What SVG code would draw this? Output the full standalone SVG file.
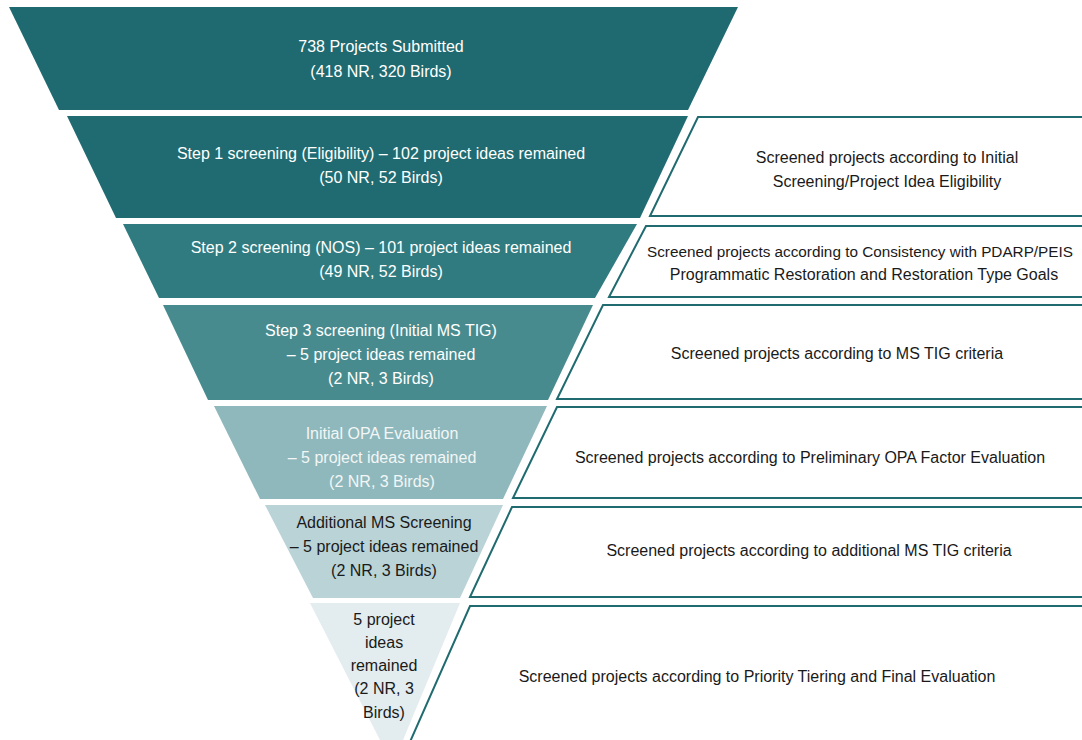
<svg xmlns="http://www.w3.org/2000/svg" width="1082" height="740" viewBox="0 0 1082 740">
<style>
.t{font-family:"Liberation Sans",Arial,sans-serif;font-size:16px;text-anchor:middle}
.w{fill:#ffffff}
.lw{fill:#f2f6f6}
.k{fill:#1a1a1a}
.box{fill:#ffffff;stroke:#1f6b70;stroke-width:2}
</style>
<rect width="1082" height="740" fill="#ffffff"/>
<g id="band1">
<polygon points="9,7 738,7 688,110 59,110" fill="#1f6a70"/>
<text class="t w" x="381" y="52">738 Projects Submitted</text>
<text class="t w" x="381" y="77">(418 NR, 320 Birds)</text>
</g>
<g id="band2">
<polygon points="67,116 688,116 640,218 116,218" fill="#206b71"/>
<text class="t w" x="381" y="159">Step 1 screening (Eligibility) – 102 project ideas remained</text>
<text class="t w" x="381" y="183">(50 NR, 52 Birds)</text>
</g>
<g id="band3">
<polygon points="123,224 637,224 595,298 159,298" fill="#2f7b80"/>
<text class="t w" x="381" y="253">Step 2 screening (NOS) – 101 project ideas remained</text>
<text class="t w" x="381" y="277">(49 NR, 52 Birds)</text>
</g>
<g id="band4">
<polygon points="163,305 593,305 548,400 208,400" fill="#488b8f"/>
<text class="t w" x="381" y="336">Step 3 screening (Initial MS TIG)</text>
<text class="t w" x="381" y="360">– 5 project ideas remained</text>
<text class="t w" x="381" y="384">(2 NR, 3 Birds)</text>
</g>
<g id="band5">
<polygon points="214,406 547,406 503,499 260,499" fill="#8fb8bc"/>
<text class="t lw" x="382" y="439">Initial OPA Evaluation</text>
<text class="t lw" x="382" y="463">– 5 project ideas remained</text>
<text class="t lw" x="382" y="487">(2 NR, 3 Birds)</text>
</g>
<g id="band6">
<polygon points="265,505 503,505 460,598 313,598" fill="#b9d3d6"/>
<text class="t k" x="384" y="528">Additional MS Screening</text>
<text class="t k" x="384" y="552">– 5 project ideas remained</text>
<text class="t k" x="384" y="576">(2 NR, 3 Birds)</text>
</g>
<g id="band7">
<polygon points="310,603 460,603 403,740 380,740" fill="#e3ecee"/>
<text class="t k" x="384" y="625">5 project</text>
<text class="t k" x="384" y="648">ideas</text>
<text class="t k" x="384" y="671">remained</text>
<text class="t k" x="384" y="694">(2 NR, 3</text>
<text class="t k" x="384" y="718">Birds)</text>
</g>
<g id="step1-desc">
<polygon class="box" points="698,117 1100,117 1100,216 650,216"/>
<text class="t k" x="887" y="163">Screened projects according to Initial</text>
<text class="t k" x="887" y="187">Screening/Project Idea Eligibility</text>
</g>
<g id="step2-desc">
<polygon class="box" points="646,226 1100,226 1100,297 609,297"/>
<text class="t k" x="860" y="257" style="font-size:15.3px">Screened projects according to Consistency with PDARP/PEIS</text>
<text class="t k" x="864" y="280">Programmatic Restoration and Restoration Type Goals</text>
</g>
<g id="step3-desc">
<polygon class="box" points="603,305 1100,305 1100,399 557,399"/>
<text class="t k" x="837" y="359">Screened projects according to MS TIG criteria</text>
</g>
<g id="opa-desc">
<polygon class="box" points="557,407 1100,407 1100,498 513,498"/>
<text class="t k" x="810" y="463">Screened projects according to Preliminary OPA Factor Evaluation</text>
</g>
<g id="additional-desc">
<polygon class="box" points="512,507 1100,507 1100,597 470,597"/>
<text class="t k" x="809" y="556">Screened projects according to additional MS TIG criteria</text>
</g>
<g id="final-desc">
<polygon class="box" points="470,606 1100,606 1100,760 402,760"/>
<text class="t k" x="757" y="682">Screened projects according to Priority Tiering and Final Evaluation</text>
</g>
<g id="connectors"></g>
</svg>
